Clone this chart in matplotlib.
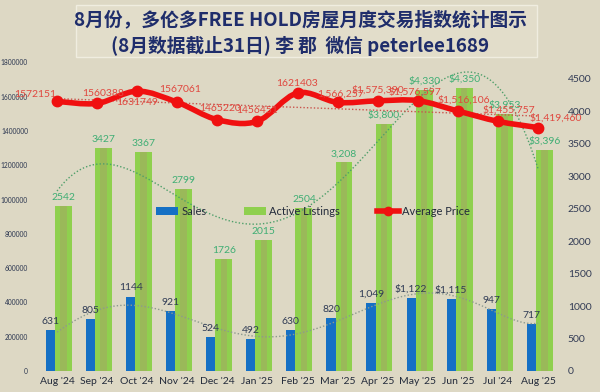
import numpy as np
import matplotlib
matplotlib.use("Agg")
import matplotlib.pyplot as plt
from matplotlib.path import Path
from matplotlib.patches import PathPatch, FancyBboxPatch
from matplotlib.lines import Line2D
from matplotlib.patches import Patch

# ---------------- data ----------------
months = ["Aug '24", "Sep '24", "Oct '24", "Nov '24", "Dec '24", "Jan '25", "Feb '25",
          "Mar '25", "Apr '25", "May '25", "Jun '25", "Jul '24", "Aug '25"]
sales = [631, 805, 1144, 921, 524, 492, 630, 820, 1049, 1122, 1115, 947, 717]
sales_labels = ["631", "805", "1144", "921", "524", "492", "630", "820", "1,049",
                "$1,122", "$1,115", "947", "717"]
listings = [2542, 3427, 3367, 2799, 1726, 2015, 2504, 3208, 3800, 4330, 4350, 3953, 3396]
listings_labels = ["2542", "3427", "3367", "2799", "1726", "2015", "2504", "3,208",
                   "$3,800", "$4,330", "$4,350", "$3,953", "$3,396"]
price = [1572151, 1560388, 1631749, 1567061, 1465220, 1456451, 1621403,
         1566257, 1575390, 1576597, 1516106, 1455757, 1419460]
price_labels = ["1572151", "1560388", "1631749", "1567061", "1465220", "1456451", "1621403",
                "1,566,257", "$1,575,390", "$1,576,597", "$1,516,106", "$1,455,757", "$1,419,460"]
left_ticks = [0, 200000, 400000, 600000, 800000, 1000000, 1200000, 1400000, 1600000, 1800000]
right_ticks = [0, 500, 1000, 1500, 2000, 2500, 3000, 3500, 4000, 4500]
title_lines = ["8月份，多伦多FREE HOLD房屋月度交易指数统计图示",
               "(8月数据截止31日) 李 郡  微信 peterlee1689"]

# label offsets (points) for price labels (style only)
price_off = [(-16, 5), (4, 7), (0, -8), (2, 9), (2, 8), (0, 8), (0, 7),
             (2, 6), (0, 8), (-2, 6), (4, 8), (8, 8), (13, 7)]

BG = "#ddd8c4"
NAVY = "#1f2d6b"
plt.rcParams['font.family'] = ['Lato', 'DejaVu Sans']

fig = plt.figure(figsize=(6, 3.92), dpi=100, facecolor=BG)
W, H = 600, 392
ax = fig.add_axes([37 / W, 21 / H, 521 / W, 343 / H])
ax.set_facecolor("none")
ax2 = ax.twinx()
ax2.set_facecolor("none")

x = np.arange(len(months))

# bars on ax (right-hand scale)
ax.bar(x - 0.165, sales, width=0.23, color="#1570c4", zorder=3)
ax.bar(x + 0.16, listings, width=0.42, color="#8fd04e", zorder=2)
ax.bar(x + 0.16, listings, width=0.16, color="#9db55c", alpha=0.85, zorder=2.5)

# polynomial trendlines
xf = np.linspace(0, len(months) - 1, 300)
cs = np.polyfit(x, sales, 6)
ax.plot(xf, np.polyval(cs, xf), linestyle=(0, (1, 1.5)), color="#8c9a8f", lw=1.0, zorder=4)
cl = np.polyfit(x, listings, 4)
ax.plot(xf, np.polyval(cl, xf), linestyle=(0, (1, 1.5)), color="#4f9f6a", lw=1.0, zorder=4)

for xi, v, t in zip(x, sales, sales_labels):
    ax.annotate(t, (xi - 0.165, v), xytext=(0, 3), textcoords="offset points",
                ha="center", va="bottom", fontsize=7.5, color="#2f3b55", zorder=6)
for xi, v, t in zip(x, listings, listings_labels):
    ax.annotate(t, (xi + 0.16, v), xytext=(0, 3), textcoords="offset points",
                ha="center", va="bottom", fontsize=7.5, color="#3fae74", zorder=6)

ax.set_ylim(0, 5277)
ax.set_xlim(-0.5, len(months) - 0.5)
ax.yaxis.tick_right()
ax.set_yticks(right_ticks)
ax.set_yticklabels([str(t) for t in right_ticks], fontsize=7.5, color="#333c55")
ax.tick_params(axis="y", length=0, pad=7)
ax.set_xticks(x)
ax.set_xticklabels(months, fontsize=7.5, color="#222a3a")
ax.tick_params(axis="x", length=0, pad=4)

# price on ax2 (left-hand scale), smooth curve
ax2.set_ylim(0, 2000000)
ax2.yaxis.tick_left()
ax2.set_yticks(left_ticks)
ax2.set_yticklabels([str(t) for t in left_ticks], fontsize=4.8, color="#2b3650")
ax2.tick_params(axis="y", length=0, pad=6.5)

cp = np.polyfit(x, price, 1)
ax2.plot([x[0], x[-1]], np.polyval(cp, [x[0], x[-1]]), linestyle=(0, (1, 1.5)),
         color="#c9544c", lw=1.0, zorder=4)

P = np.column_stack([x, price]).astype(float)
verts = [tuple(P[0])]
codes = [Path.MOVETO]
n = len(P)
for i in range(n - 1):
    p0 = P[i - 1] if i > 0 else P[i]
    p1, p2 = P[i], P[i + 1]
    p3 = P[i + 2] if i + 2 < n else P[i + 1]
    c1 = p1 + (p2 - p0) / 6.0
    c2 = p2 - (p3 - p1) / 6.0
    verts += [tuple(c1), tuple(c2), tuple(p2)]
    codes += [Path.CURVE4] * 3
ax2.add_patch(PathPatch(Path(verts, codes), facecolor="none", edgecolor="#f01010",
                        lw=4.0, capstyle="round", joinstyle="round", zorder=5))
ax2.plot(x, price, linestyle="none", marker="o", ms=7.5, color="#f01010", zorder=6)
for xi, v, t, off in zip(x, price, price_labels, price_off):
    ax2.annotate(t, (xi, v), xytext=off, textcoords="offset points",
                 ha="center", va="center", fontsize=7.5, color="#e0483f", zorder=7)

for a in (ax, ax2):
    for s in a.spines.values():
        s.set_visible(False)

# legend
handles = [Patch(facecolor="#1570c4"), Patch(facecolor="#8fd04e"),
           Line2D([], [], color="#f01010", lw=4, marker="o", ms=6)]
leg = ax2.legend(handles, ["Sales", "Active Listings", "Average Price"], ncol=3,
                 loc="center", bbox_to_anchor=(0.53, 0.466), frameon=False,
                 fontsize=8, columnspacing=3.3, handlelength=2.0, handletextpad=0.3)
for t in leg.get_texts():
    t.set_color("#222a3a")

# title box
box = FancyBboxPatch((76 / W, 1 - 57 / H), (537 - 76) / W, 52 / H,
                     boxstyle="square,pad=0", transform=fig.transFigure,
                     facecolor="#e2ddca", edgecolor="#f0ede0", lw=1.0, zorder=10)
fig.add_artist(box)
fig.text(0.5, 1 - 20 / H, title_lines[0], ha="center", va="center", fontsize=13.5,
         fontweight="bold", color=NAVY, family=['Noto Sans CJK SC', 'DejaVu Sans'], zorder=11)
fig.text(0.5, 1 - 46 / H, title_lines[1], ha="center", va="center", fontsize=13.5,
         fontweight="bold", color=NAVY, family=['Noto Sans CJK SC', 'DejaVu Sans'], zorder=11)

fig.savefig("out.png", dpi=100, facecolor=BG)
